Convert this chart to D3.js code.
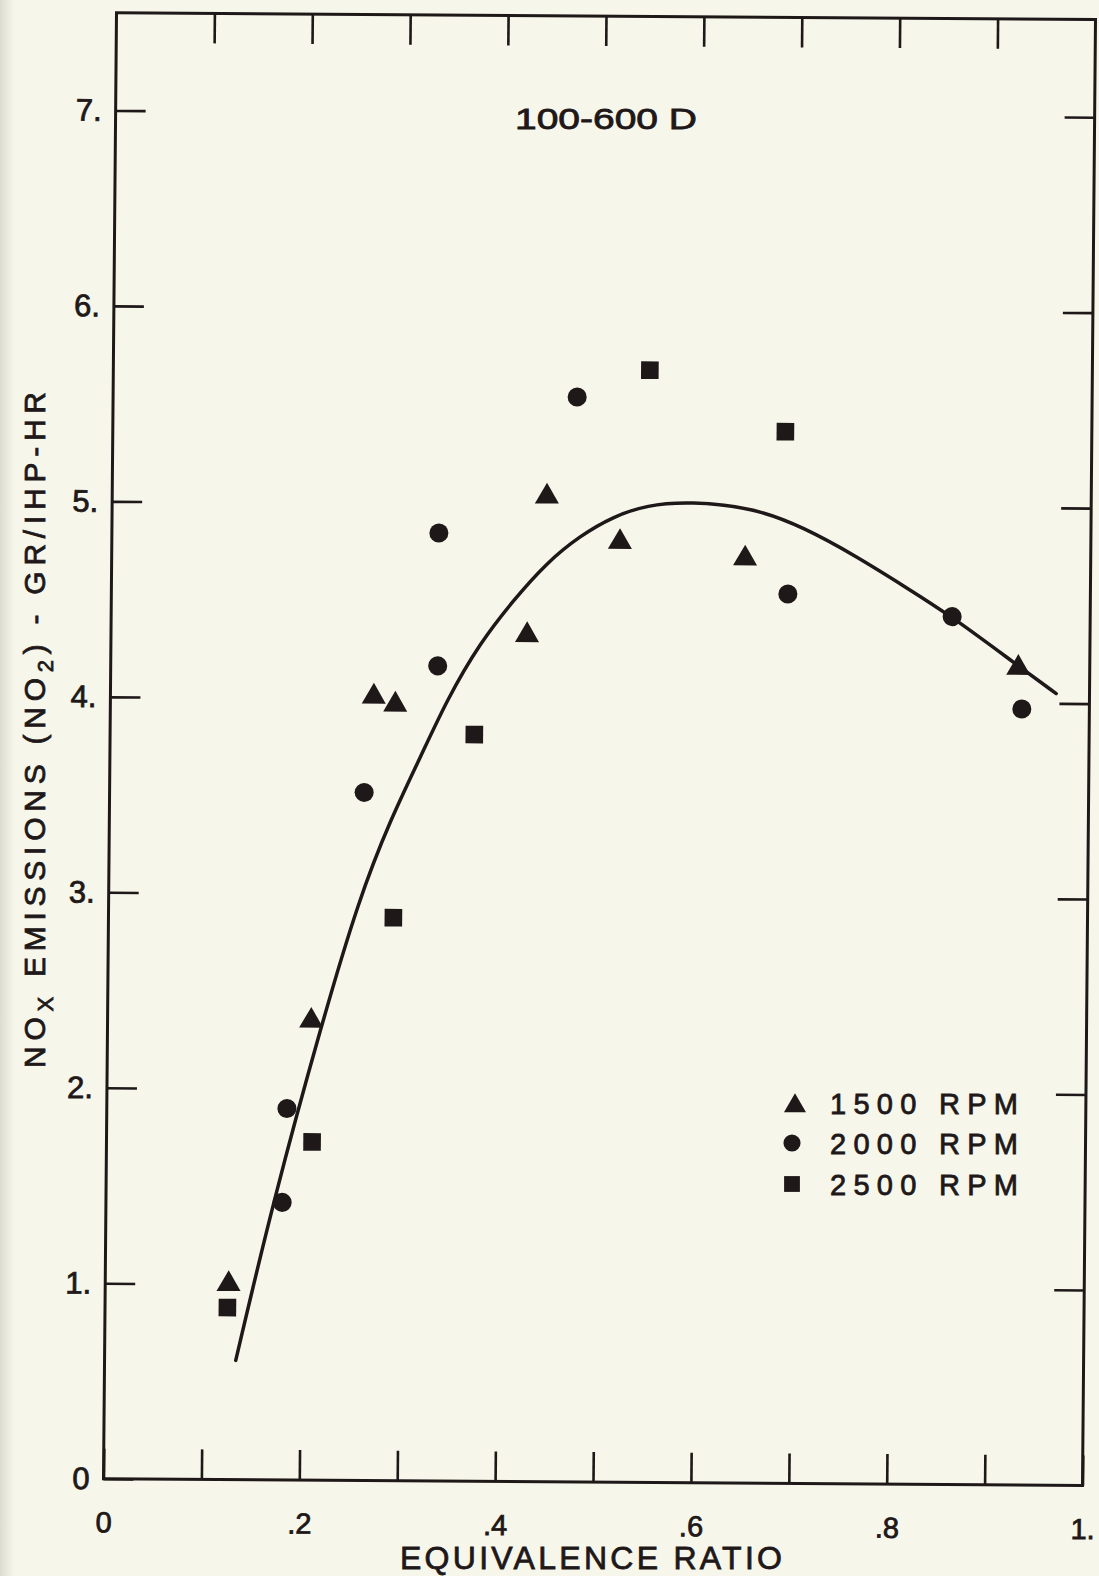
<!DOCTYPE html>
<html>
<head>
<meta charset="utf-8">
<script src="https://cdn.jsdelivr.net/npm/d3@7"></script>
<style>
  html, body { margin: 0; padding: 0; background: #f6f6ea; }
  svg { display: block; }
  text { font-family: "Liberation Sans", Arial, sans-serif; fill: #1e1819; stroke: #1e1819; stroke-width: 0.8px; }
</style>
</head>
<body>
<div id="chart"></div>
<script>
// Ticks
const xTicks = [0, 0.1, 0.2, 0.3, 0.4, 0.5, 0.6, 0.7, 0.8, 0.9, 1.0];
const xTickLabels = ['0', '', '.2', '', '.4', '', '.6', '', '.8', '', '1.'];
const yTicks = [0, 1, 2, 3, 4, 5, 6, 7];

// Measured points (equivalence ratio, NOx gr/ihp-hr)
const rpm1500 = [
    [0.126, 1.00], [0.208, 2.35], [0.269, 4.01], [0.291, 3.97], [0.444, 5.04],
    [0.425, 4.33], [0.519, 4.81], [0.647, 4.73], [0.927, 4.18]
];
const rpm2000 = [
    [0.184, 1.90], [0.180, 1.42], [0.260, 3.52], [0.334, 4.85], [0.334, 4.17],
    [0.474, 5.55], [0.691, 4.55], [0.859, 4.44], [0.931, 3.97]
];
const rpm2500 = [
    [0.125, 0.88], [0.210, 1.73], [0.291, 2.88], [0.372, 3.82], [0.548, 5.69],
    [0.687, 5.38]
];

// Hand-drawn fit curve
const fitX = [0.134, 0.171, 0.219, 0.256, 0.287, 0.317, 0.344, 0.377, 0.411, 0.444,
              0.478, 0.512, 0.546, 0.590, 0.656, 0.707, 0.759, 0.811, 0.859, 0.927, 0.966];
const fitY = [0.61, 1.43, 2.34, 2.98, 3.38, 3.70, 4.00, 4.29, 4.51, 4.70,
              4.84, 4.94, 5.00, 5.02, 4.99, 4.89, 4.75, 4.59, 4.44, 4.19, 4.05];

const legendLabels = ['1500 RPM', '2000 RPM', '2500 RPM'];

const INK = '#1e1819';
const width = 1099, height = 1576;
const plotW = 979, plotH = 1466;
// the scanned page is a little skewed
const pageSkew = 'matrix(1,0.0069,-0.00887,1,116.5,12.7)';

const svg = d3.select('#chart').append('svg')
    .attr('width', width)
    .attr('height', height);

const defs = svg.append('defs');
const grad = defs.append('linearGradient').attr('id', 'edge');
grad.append('stop').attr('offset', '0%').attr('stop-color', '#dcdcd0');
grad.append('stop').attr('offset', '100%').attr('stop-color', '#f6f6ea');

svg.append('rect').attr('width', width).attr('height', height).attr('fill', '#f6f6ea');
svg.append('rect').attr('width', 14).attr('height', height).attr('fill', 'url(#edge)');

const g = svg.append('g').attr('transform', pageSkew);

const x = d3.scaleLinear().domain([0, 1]).range([0, plotW]);
const y = d3.scaleLinear().domain([0, 7.5]).range([plotH, 0]);

function styleAxis(sel, size) {
    sel.select('.domain').remove();
    sel.selectAll('line').attr('stroke', INK).attr('stroke-width', 2.6);
    sel.selectAll('text').attr('fill', INK);
    sel.attr('font-size', size).attr('font-family', null);
}

// bottom axis
g.append('g')
    .attr('transform', `translate(0,${plotH})`)
    .call(d3.axisBottom(x).tickValues(xTicks).tickSizeInner(-30).tickSizeOuter(0)
        .tickPadding(33).tickFormat((d, i) => xTickLabels[i]))
    .call(s => styleAxis(s, 29));

// top axis
g.append('g')
    .call(d3.axisTop(x).tickValues(xTicks.slice(1, -1)).tickSizeInner(-30).tickSizeOuter(0)
        .tickFormat(''))
    .call(s => styleAxis(s, 30));

// left axis
g.append('g')
    .call(d3.axisLeft(y).tickValues(yTicks).tickSizeInner(-30).tickSizeOuter(0)
        .tickPadding(14).tickFormat(d => d === 0 ? '0' : d + '.'))
    .call(s => styleAxis(s, 31));

// right axis
g.append('g')
    .attr('transform', `translate(${plotW},0)`)
    .call(d3.axisRight(y).tickValues(yTicks.slice(1)).tickSizeInner(-30).tickSizeOuter(0)
        .tickFormat(''))
    .call(s => styleAxis(s, 30));

// frame
g.append('rect')
    .attr('width', plotW)
    .attr('height', plotH)
    .attr('fill', 'none')
    .attr('stroke', INK)
    .attr('stroke-width', 3);

// fit curve
const fitLine = d3.line()
    .x((d, i) => x(fitX[i]))
    .y((d, i) => y(fitY[i]))
    .curve(d3.curveBasis);

g.append('path')
    .datum(fitX)
    .attr('d', fitLine)
    .attr('fill', 'none')
    .attr('stroke', INK)
    .attr('stroke-width', 3.5)
    .attr('stroke-linecap', 'round');

// markers
const markerTypes = [
    { data: rpm1500, type: d3.symbolTriangle, size: 250 },
    { data: rpm2000, type: d3.symbolCircle, size: 285 },
    { data: rpm2500, type: d3.symbolSquare, size: 310 }
];

markerTypes.forEach(m => {
    g.append('g').selectAll('path')
        .data(m.data)
        .enter()
        .append('path')
        .attr('d', d3.symbol().type(m.type).size(m.size))
        .attr('transform', d => `translate(${x(d[0])},${y(d[1])})`)
        .attr('fill', INK);
});

// title inside plot
svg.append('text')
    .attr('x', 515)
    .attr('y', 129)
    .attr('font-size', 30)
    .attr('textLength', 182)
    .attr('lengthAdjust', 'spacingAndGlyphs')
    .text('100-600 D');

// legend
const legendSymbols = [
    { type: d3.symbolTriangle, size: 210, cx: 795, cy: 1106 },
    { type: d3.symbolCircle, size: 230, cx: 792, cy: 1143 },
    { type: d3.symbolSquare, size: 250, cx: 792, cy: 1184 }
];
const legendBaselines = [1114, 1154, 1195];

legendSymbols.forEach((s, i) => {
    svg.append('path')
        .attr('d', d3.symbol().type(s.type).size(s.size))
        .attr('transform', `translate(${s.cx},${s.cy})`)
        .attr('fill', INK);
    svg.append('text')
        .attr('x', 830)
        .attr('y', legendBaselines[i])
        .attr('font-size', 29)
        .attr('textLength', 188)
        .attr('lengthAdjust', 'spacing')
        .text(legendLabels[i]);
});

// x axis title
svg.append('text')
    .attr('x', 400)
    .attr('y', 1569)
    .attr('font-size', 32)
    .attr('textLength', 382)
    .attr('lengthAdjust', 'spacing')
    .text('EQUIVALENCE RATIO');

// y axis title
const yTitle = svg.append('text')
    .attr('transform', 'translate(45,730) rotate(-90)')
    .attr('text-anchor', 'middle')
    .attr('font-size', 30)
    .attr('textLength', 676)
    .attr('lengthAdjust', 'spacing');
yTitle.append('tspan').text('NO');
yTitle.append('tspan').attr('font-size', 22).attr('dy', 8).text('X');
yTitle.append('tspan').attr('dy', -8).text(' EMISSIONS (NO');
yTitle.append('tspan').attr('font-size', 22).attr('dy', 8).text('2');
yTitle.append('tspan').attr('dy', -8).text(') - GR/IHP-HR');
</script>
</body>
</html>
